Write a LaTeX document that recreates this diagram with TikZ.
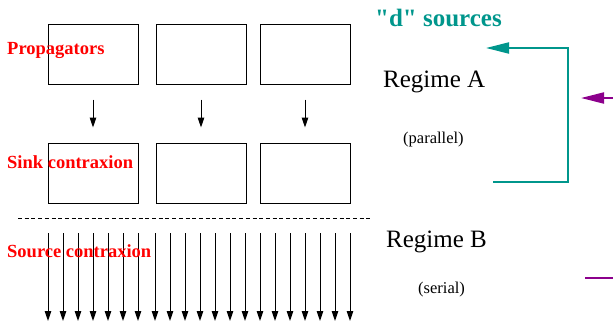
\documentclass[tikz,border=0pt]{standalone}
\usepackage{fontspec}
\setmainfont{Liberation Serif}
% same face without TeX ligature mapping, so " stays a straight quote
\newfontfamily\straightserif{Liberation Serif}
\usetikzlibrary{arrows.meta}
\definecolor{srcteal}{RGB}{0,150,140}
\definecolor{regpurple}{RGB}{140,0,140}
\definecolor{labred}{RGB}{255,0,0}
\tikzset{
  box/.style={draw=black, line width=1pt, minimum width=90pt, minimum height=60pt, inner sep=0pt},
  stagelabel/.style={text=labred, font=\fontsize{18.5}{20}\selectfont\bfseries, anchor=base west, inner sep=0pt},
  regime/.style={font=\fontsize{25}{28}\selectfont, anchor=base west, inner sep=0pt},
  regnote/.style={font=\fontsize{16.5}{18}\selectfont, anchor=base west, inner sep=0pt},
  flow/.style={line width=1pt, -{Triangle[length=10pt,width=6.5pt]}},
  bigarrow/.style={line width=2pt, -{Triangle[length=23pt,width=11pt]}}
}
\begin{document}
\begin{tikzpicture}[x=1pt,y=-1pt]
\useasboundingbox (0,0) rectangle (613,322);

% propagator boxes and sink contraction boxes
\foreach \i/\cx in {1/93,2/201,3/305}{
  \node[box] (p\i) at (\cx,54) {};
  \node[box] (s\i) at (\cx,173) {};
  \draw[flow, shorten <=15pt, shorten >=15pt] (p\i.south) -- (s\i.north);
}

% separator between the two regimes
\draw[line width=1pt, dash pattern=on 4pt off 2.7pt] (18,218) coordinate (sepL) -- (373,218) coordinate (sepR);

% source contraction: one arrow per source
\foreach \x [count=\k] in {48,63,78,93,108,123,138,155,170,185,200,215,230,245,260,275,290,305,320,335,350}{
  \coordinate (top\k) at (\x,233);
  \coordinate (bot\k) at (\x,321);
  \draw[flow] (top\k) -- (bot\k);
}

% stage labels
\node[stagelabel] (lprop) at (7,54) {Propagators};
\node[stagelabel] (lsink) at (7,168) {Sink contraxion};
\node[stagelabel] (lsrc) at (7,257) {Source contraxion};

% regime labels
\node[text=srcteal, font=\straightserif\fontsize{25}{28}\selectfont\bfseries, anchor=base west, inner sep=0pt] (dsrc) at (375,26) {"d" sources};
\node[regime] (ra) at (383,87) {Regime A};
\node[regnote] (rpar) at (403,143) {(parallel)};
\node[regime] (rb) at (386,247) {Regime B};
\node[regnote] (rser) at (418,293) {(serial)};

% loop over the d sources
\coordinate (loopIn) at (493,182);
\coordinate (loopCorner) at (568,48);
\coordinate (loopOut) at (486,48);
\draw[srcteal, bigarrow] (loopIn) -| (loopCorner) -- (loopOut);

% incoming arrows from the right
\coordinate (pA) at (613,98);
\coordinate (pAtip) at (581,98);
\draw[regpurple, bigarrow] (pA) -- (pAtip);
\coordinate (pB) at (613,278);
\coordinate (pBend) at (585,278);
\draw[regpurple, line width=2pt] (pB) -- (pBend);
\end{tikzpicture}
\end{document}
